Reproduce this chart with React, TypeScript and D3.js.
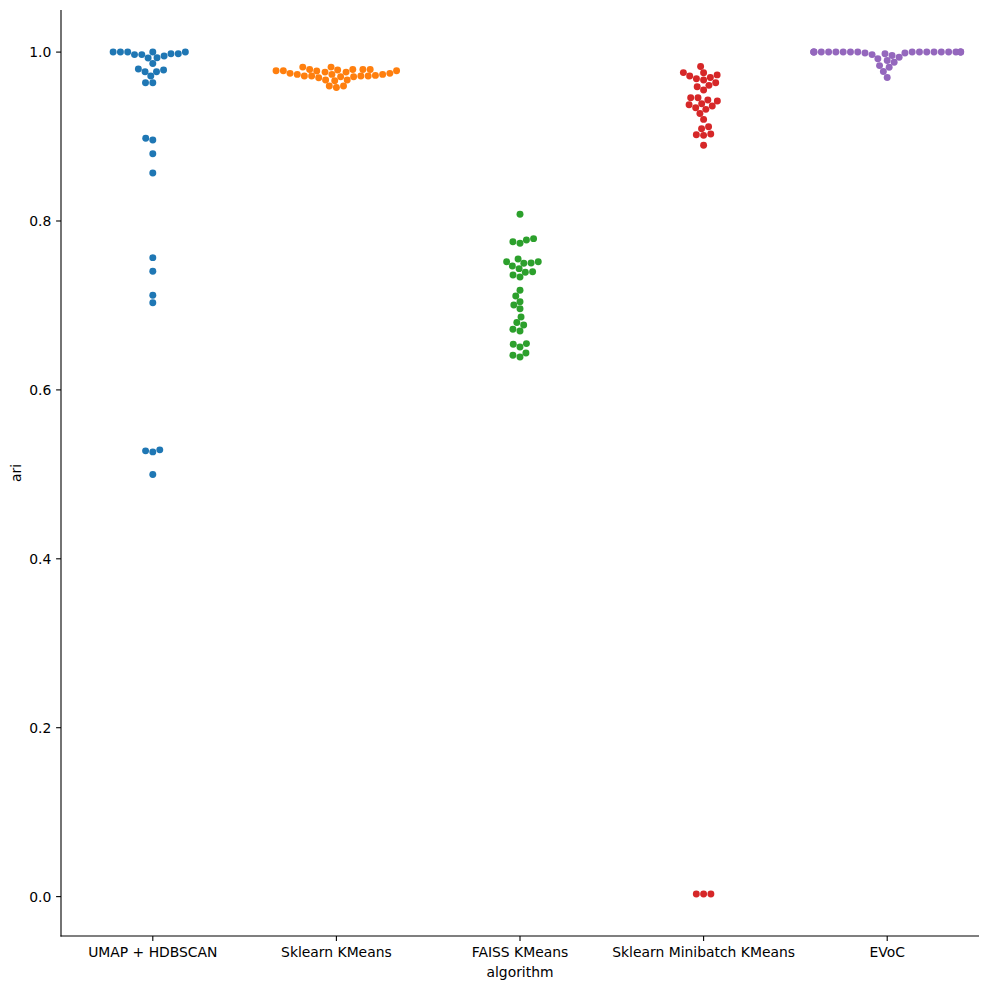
import React from "react";
import * as d3 from "d3";

// swarm plot of ARI per clustering algorithm
const categories = ["UMAP + HDBSCAN", "Sklearn KMeans", "FAISS KMeans", "Sklearn Minibatch KMeans", "EVoC"];

const umapHdbscan = [
  1.0, 1.0, 1.0, 1.0, 1.0, 0.998, 0.998, 0.997, 0.997, 0.9953, 0.9933, 0.9929, 0.9866,
  0.98, 0.9787, 0.9767, 0.9767, 0.9716, 0.9637, 0.9637,
  0.8979, 0.8959, 0.8796, 0.8568, 0.7566, 0.7405, 0.7121, 0.7033,
  0.529, 0.5278, 0.5266, 0.4998,
];
const sklearnKMeans = [
  0.9822, 0.9822, 0.9795, 0.9795, 0.9795, 0.9795, 0.9787, 0.978, 0.978, 0.978, 0.9775,
  0.9763, 0.9763, 0.9748, 0.9748, 0.9736, 0.9736, 0.9736, 0.9724, 0.9716, 0.9716, 0.9716,
  0.9716, 0.9708, 0.9708, 0.9696, 0.9669, 0.9669, 0.966, 0.9598, 0.9598, 0.958,
];
const faissKMeans = [
  0.8079, 0.7755, 0.7736, 0.7775, 0.7791, 0.7518, 0.7467, 0.755, 0.7499, 0.7503, 0.7518,
  0.7436, 0.7393, 0.74, 0.7361, 0.7337, 0.718, 0.7112, 0.7045, 0.7006, 0.6962, 0.6864,
  0.6797, 0.6769, 0.6718, 0.6698, 0.654, 0.6509, 0.6548, 0.641, 0.639, 0.6438,
];
const minibatchKMeans = [
  0.983, 0.9757, 0.9755, 0.9716, 0.9684, 0.9669, 0.97, 0.973, 0.9589, 0.955, 0.9606, 0.9637,
  0.9459, 0.9432, 0.942, 0.9459, 0.9376, 0.9341, 0.9322, 0.9361, 0.9388, 0.9274, 0.9203,
  0.9116, 0.9093, 0.9022, 0.9014, 0.903, 0.8896, 0.0032, 0.0032, 0.0032,
];
const evoc = [
  0.97, 0.977, 0.982, 0.984, 0.988, 0.99, 0.992, 0.994, 0.996, 0.997, 0.998, 0.999, 0.999,
  1.0, 1.0, 1.0, 1.0, 1.0, 1.0, 1.0, 1.0, 1.0, 1.0, 1.0, 1.0, 1.0, 1.0, 1.0, 1.0, 1.0, 1.0, 1.0,
];
const series = [umapHdbscan, sklearnKMeans, faissKMeans, minibatchKMeans, evoc];
const colors = ["#1f77b4", "#ff7f0e", "#2ca02c", "#d62728", "#9467bd"];
const yTicks = [0, 0.2, 0.4, 0.6, 0.8, 1.0];

const W = 989;
const H = 989;
const margin = { top: 10, right: 10, bottom: 53, left: 61 };
const R = (5 / 2) * (100 / 72); // 5pt marker at 100 dpi
const FONT = "DejaVu Sans, sans-serif";
const FS = 13.9;

// seaborn style beeswarm, works in pixel space
function beeswarm(py: number[], mid: number, r: number, half: number) {
  const order = d3.range(py.length).sort((a, b) => py[b] - py[a]); // ascending value
  const placed: { x: number; y: number }[] = [];
  const xs = new Array(py.length).fill(mid);
  for (const idx of order) {
    const yi = -py[idx];
    const nb: { x: number; y: number }[] = [];
    for (let k = placed.length - 1; k >= 0; k--) {
      if (yi - placed[k].y < 2 * r) nb.push(placed[k]);
      else break;
    }
    let cands = [mid];
    let leftFirst = true;
    for (const n of nb) {
      const dy = yi - n.y;
      const dx = Math.sqrt(Math.max(4 * r * r - dy * dy, 0)) * 1.05;
      cands.push(...(leftFirst ? [n.x - dx, n.x + dx] : [n.x + dx, n.x - dx]));
      leftFirst = !leftFirst;
    }
    // near ties go to the left
    cands = cands
      .map((c, i) => ({ c, i, o: Math.round(Math.abs(c - mid) * 1000) / 1000 }))
      .sort((a, b) => a.o - b.o || a.c - b.c || a.i - b.i)
      .map((d) => d.c);
    let x = cands[0];
    if (nb.length) {
      for (const c of cands) {
        const ok = nb.every((n) => (n.x - c) ** 2 + (n.y - yi) ** 2 >= 4 * r * r);
        if (ok) { x = c; break; }
      }
    }
    placed.push({ x, y: yi });
    xs[idx] = x;
  }
  return xs.map((x) => Math.max(mid - half, Math.min(mid + half, x)));
}

export default function App() {
  const all = series.flat();
  const [lo, hi] = d3.extent(all) as [number, number];
  const pad = (hi - lo) * 0.05;

  const x = d3.scaleBand().domain(categories).range([margin.left, W - margin.right]);
  const y = d3.scaleLinear().domain([lo - pad, hi + pad]).range([H - margin.bottom, margin.top]);
  const bw = x.bandwidth();
  const bottom = H - margin.bottom;
  const fmt = d3.format(".1f");

  return (
    <svg width={W} height={H} style={{ position: "absolute", left: 0, top: 0, background: "#fff" }}>
      <rect width={W} height={H} fill="#fff" />
      {series.map((vals, si) => {
        const mid = (x(categories[si]) as number) + bw / 2;
        const py = vals.map((v) => y(v));
        const xs = beeswarm(py, mid, R, bw * 0.4);
        return (
          <g key={si} fill={colors[si]}>
            {vals.map((v, i) => (
              <circle key={i} cx={xs[i]} cy={py[i]} r={R} />
            ))}
          </g>
        );
      })}

      {/* spines */}
      <g stroke="#000" strokeWidth={1.1} fill="none">
        <line x1={margin.left} x2={margin.left} y1={margin.top} y2={bottom + 0.55} />
        <line x1={margin.left - 0.55} x2={W - margin.right} y1={bottom} y2={bottom} />
      </g>

      {/* y axis */}
      <g fontFamily={FONT} fontSize={FS}>
        {yTicks.map((t) => (
          <g key={t}>
            <line x1={margin.left - 4.9} x2={margin.left} y1={y(t)} y2={y(t)} stroke="#000" strokeWidth={1.1} />
            <text x={margin.left - 9.7} y={y(t)} dy="0.36em" textAnchor="end">{fmt(t)}</text>
          </g>
        ))}
        <text transform={`translate(20.5,${(margin.top + bottom) / 2}) rotate(-90)`} textAnchor="middle">ari</text>
      </g>

      {/* x axis */}
      <g fontFamily={FONT} fontSize={FS}>
        {categories.map((c) => {
          const cx = (x(c) as number) + bw / 2;
          return (
            <g key={c}>
              <line x1={cx} x2={cx} y1={bottom} y2={bottom + 4.9} stroke="#000" strokeWidth={1.1} />
              <text x={cx} y={957} textAnchor="middle">{c}</text>
            </g>
          );
        })}
        <text x={(margin.left + W - margin.right) / 2} y={976.5} textAnchor="middle">algorithm</text>
      </g>
    </svg>
  );
}
